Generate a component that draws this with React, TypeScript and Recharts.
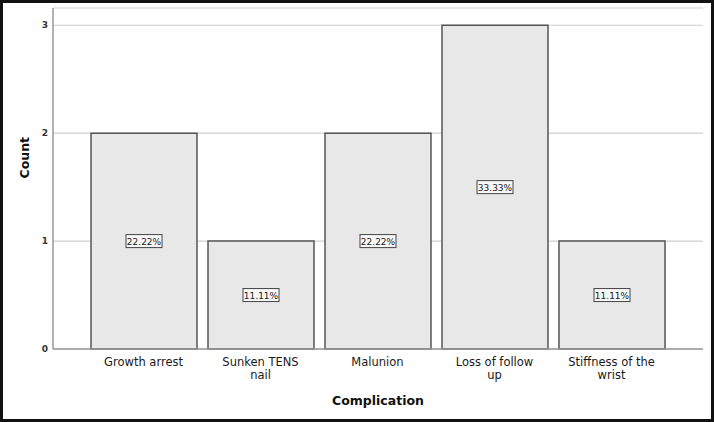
import { BarChart, Bar, XAxis, YAxis, CartesianGrid, LabelList } from "recharts";

const categories = [
  "Growth arrest",
  "Sunken TENS\nnail",
  "Malunion",
  "Loss of follow\nup",
  "Stiffness of the\nwrist",
];
const counts = [2, 1, 2, 3, 1];
const percents = ["22.22%", "11.11%", "22.22%", "33.33%", "11.11%"];
const yTicks = [0, 1, 2, 3];

const data = categories.map((name, i) => ({ name, count: counts[i], pct: percents[i] }));

const FONT = "'DejaVu Sans', sans-serif";

const XTick = (props: any) => {
  const { x, y, payload } = props;
  const lines = String(payload.value).split("\n");
  return (
    <text x={x} y={y + 9} textAnchor="middle" fontFamily={FONT} fontSize={11.5} fill="#1a1a1a">
      {lines.map((l, i) => (
        <tspan key={i} x={x} dy={i === 0 ? 0 : 12.5}>{l}</tspan>
      ))}
    </text>
  );
};

const PctLabel = (props: any) => {
  const { x, y, width, height, value } = props;
  const cx = x + width / 2;
  const cy = y + height / 2;
  return (
    <g>
      <rect x={cx - 18} y={cy - 6.5} width={36} height={13} fill="#f7f7f7" stroke="#444" strokeWidth={1} />
      <text x={cx} y={cy + 3.5} textAnchor="middle" fontFamily={FONT} fontSize={9} fill="#222">
        {value}
      </text>
    </g>
  );
};

export default function App() {
  return (
    <div style={{ position: "absolute", left: 0, top: 0, width: 714, height: 422, background: "#fff" }}>
      <BarChart width={714} height={422} data={data} margin={{ top: 8, right: 11, bottom: 0, left: 0 }}>
        <CartesianGrid horizontal vertical={false} stroke="#cfcfcf" strokeWidth={1.2} />
        <XAxis
          dataKey="name"
          height={73}
          interval={0}
          padding={{ left: 32, right: 33 }}
          tick={<XTick />}
          tickLine={false}
          axisLine={{ stroke: "#999", strokeWidth: 1.5 }}
          label={{ value: "Complication", position: "insideBottom", offset: 17, fontFamily: FONT, fontSize: 12.5, fontWeight: "bold", fill: "#111" }}
        />
        <YAxis
          width={53}
          domain={[0, 3.16]}
          ticks={yTicks}
          tickLine={false}
          tickSize={0}
          tickMargin={5}
          axisLine={{ stroke: "#999", strokeWidth: 1.5 }}
          tick={{ fontFamily: FONT, fontSize: 9, fontWeight: "bold", fill: "#333" }}
          label={{ value: "Count", angle: -90, position: "insideLeft", offset: 25, fontFamily: FONT, fontSize: 12.5, fontWeight: "bold", fill: "#111" }}
        />
        <Bar dataKey="count" barSize={106} fill="#e8e8e8" stroke="#555" strokeWidth={1.5} isAnimationActive={false}>
          <LabelList dataKey="pct" content={<PctLabel />} />
        </Bar>
      </BarChart>
      <div style={{ position: "absolute", inset: 0, border: "3px solid #111", pointerEvents: "none" }} />
    </div>
  );
}
